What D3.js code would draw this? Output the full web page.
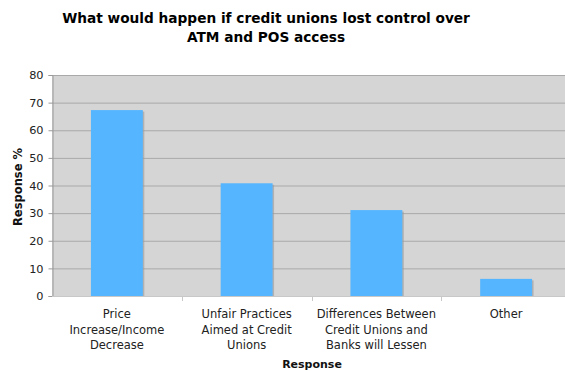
<!DOCTYPE html>
<html>
<head>
<meta charset="utf-8">
<script src="https://cdn.jsdelivr.net/npm/d3@7.9.0/dist/d3.min.js"></script>
<style>
  body { margin: 0; background: #fff; }
  svg { display: block; font-family: Verdana, "DejaVu Sans", sans-serif; }
</style>
</head>
<body>
<svg id="chart" width="565" height="371"></svg>
<script>
// chart data
const categories = [
  "Price Increase/Income Decrease",
  "Unfair Practices Aimed at Credit Unions",
  "Differences Between Credit Unions and Banks will Lessen",
  "Other"
];
const labelLines = [
  ["Price", "Increase/Income", "Decrease"],
  ["Unfair Practices", "Aimed at Credit", "Unions"],
  ["Differences Between", "Credit Unions and", "Banks will Lessen"],
  ["Other"]
];
const values = [67.3, 40.8, 31.1, 6.2];
const yTicks = [0, 10, 20, 30, 40, 50, 60, 70, 80];
const titleLines = ["What would happen if credit unions lost control over", "ATM and POS access"];

const svg = d3.select("#chart");
const margin = { left: 52, top: 75, bottom: 296 };
const plotRight = 571; // plot runs off the right edge in the original

const x = d3.scaleBand()
  .domain(categories)
  .range([margin.left, plotRight])
  .paddingInner(0.6)
  .paddingOuter(0.3);

const y = d3.scaleLinear().domain([0, 80]).range([margin.bottom, margin.top]);

// plot background
svg.append("rect")
  .attr("x", margin.left)
  .attr("y", margin.top)
  .attr("width", plotRight - margin.left)
  .attr("height", margin.bottom - margin.top)
  .attr("fill", "#d5d5d5");

// grid lines
svg.append("g")
  .selectAll("line")
  .data(yTicks.slice(1))
  .join("line")
  .attr("x1", margin.left)
  .attr("x2", plotRight)
  .attr("y1", d => y(d) + 0.5)
  .attr("y2", d => y(d) + 0.5)
  .attr("stroke", "#a9a9a9")
  .attr("stroke-width", 1);

// bar shadows
svg.append("g")
  .selectAll("rect")
  .data(values)
  .join("rect")
  .attr("x", (d, i) => x(categories[i]) + 1.5)
  .attr("y", d => y(d) + 1.5)
  .attr("width", x.bandwidth())
  .attr("height", d => y(0) - y(d) - 1.5)
  .attr("fill", "#9a9a9a")
  .attr("opacity", 0.6);

// bars
svg.append("g")
  .selectAll("rect")
  .data(values)
  .join("rect")
  .attr("x", (d, i) => x(categories[i]))
  .attr("y", d => y(d))
  .attr("width", x.bandwidth())
  .attr("height", d => y(0) - y(d))
  .attr("fill", "#55b5ff");

// y axis
const yAxis = svg.append("g")
  .attr("transform", `translate(${margin.left + 0.5},0)`)
  .call(d3.axisLeft(y).tickValues(yTicks).tickSize(4).tickPadding(5));
yAxis.select(".domain").attr("stroke", "#9a9a9a");
yAxis.selectAll(".tick line").attr("stroke", "#9a9a9a");
yAxis.selectAll("text")
  .attr("fill", "#222")
  .style("font-size", "11.3px")
  .style("font-family", "Verdana, 'DejaVu Sans', sans-serif");

// x axis line with boundary ticks
const boundaries = categories.slice(1).map(c => x(c) - x.step() * x.paddingInner() / 2);
svg.append("line")
  .attr("x1", margin.left)
  .attr("x2", plotRight)
  .attr("y1", margin.bottom + 0.5)
  .attr("y2", margin.bottom + 0.5)
  .attr("stroke", "#c8c8c8");
svg.append("g")
  .selectAll("line")
  .data(boundaries)
  .join("line")
  .attr("x1", d => Math.round(d) + 0.5)
  .attr("x2", d => Math.round(d) + 0.5)
  .attr("y1", margin.bottom)
  .attr("y2", margin.bottom + 5)
  .attr("stroke", "#c8c8c8");

// category labels
const xLabels = svg.append("g")
  .selectAll("text")
  .data(categories)
  .join("text")
  .attr("x", d => x(d) + x.bandwidth() / 2)
  .attr("y", 318)
  .attr("text-anchor", "middle")
  .attr("fill", "#222")
  .style("font-size", "11.5px");
xLabels.each(function(d, i) {
  d3.select(this).selectAll("tspan")
    .data(labelLines[i])
    .join("tspan")
    .attr("x", x(d) + x.bandwidth() / 2)
    .attr("dy", (t, j) => j === 0 ? 0 : 15.5)
    .text(t => t);
});

// axis titles
svg.append("text")
  .attr("x", 312)
  .attr("y", 368)
  .attr("text-anchor", "middle")
  .attr("font-weight", "bold")
  .attr("fill", "#111")
  .style("font-size", "11px")
  .text("Response");

svg.append("text")
  .attr("transform", "translate(22,187) rotate(-90)")
  .attr("text-anchor", "middle")
  .attr("font-weight", "bold")
  .attr("fill", "#111")
  .style("font-size", "11.5px")
  .text("Response %");

// title
svg.append("g")
  .selectAll("text")
  .data(titleLines)
  .join("text")
  .attr("x", 266)
  .attr("y", (d, i) => 23 + i * 19)
  .attr("text-anchor", "middle")
  .attr("font-weight", "bold")
  .attr("fill", "#000")
  .style("font-size", "13.7px")
  .text(d => d);
</script>
</body>
</html>
